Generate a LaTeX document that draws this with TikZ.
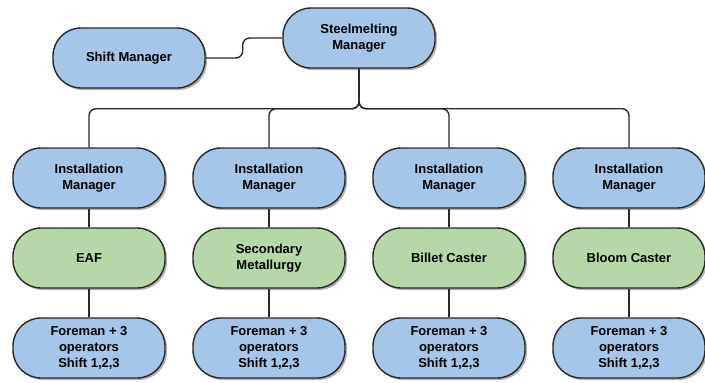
\documentclass[tikz,border=0pt]{standalone}
\usepackage{fontspec}
\setmainfont{Liberation Sans}
\usetikzlibrary{shadows}
\definecolor{mgrblue}{RGB}{163,198,233}
\definecolor{unitgreen}{RGB}{182,215,168}
\definecolor{edgegray}{RGB}{40,40,40}
\tikzset{
  box/.style={draw=edgegray, line width=1.4pt, rounded corners=28pt,
    minimum width=152pt, minimum height=60pt, align=center,
    font=\bfseries\fontsize{13}{16}\selectfont,
    drop shadow={shadow xshift=2pt, shadow yshift=-2pt, opacity=0.3, fill=black}},
  mgr/.style={box, fill=mgrblue},
  unit/.style={box, fill=unitgreen},
  link/.style={draw=edgegray, line width=1.4pt, rounded corners=7pt}
}
\begin{document}
\begin{tikzpicture}[x=1pt,y=-1pt]
\useasboundingbox (0,0) rectangle (705,383);
\node[mgr] (steel) at (359,38) {Steelmelting\\Manager};
\node[mgr] (shift) at (129,58) {Shift Manager};
\draw[link] (shift.east) -- ++(37,0) |- (steel.west);
\foreach \i/\x/\unitname in {1/89/EAF, 2/269/{Secondary\\Metallurgy}, 3/449/Billet Caster, 4/629/Bloom Caster} {
  \node[mgr] (inst\i) at (\x,178) {Installation\\Manager};
  \node[unit] (unit\i) at (\x,258) {\unitname};
  \node[mgr] (crew\i) at (\x,348) {Foreman + 3\\operators\\Shift 1,2,3};
  \draw[link] (steel.south) -- ++(0,40) -| (inst\i.north);
  \draw[link] (inst\i.south) -- (unit\i.north);
  \draw[link] (unit\i.south) -- (crew\i.north);
}
\end{tikzpicture}
\end{document}
